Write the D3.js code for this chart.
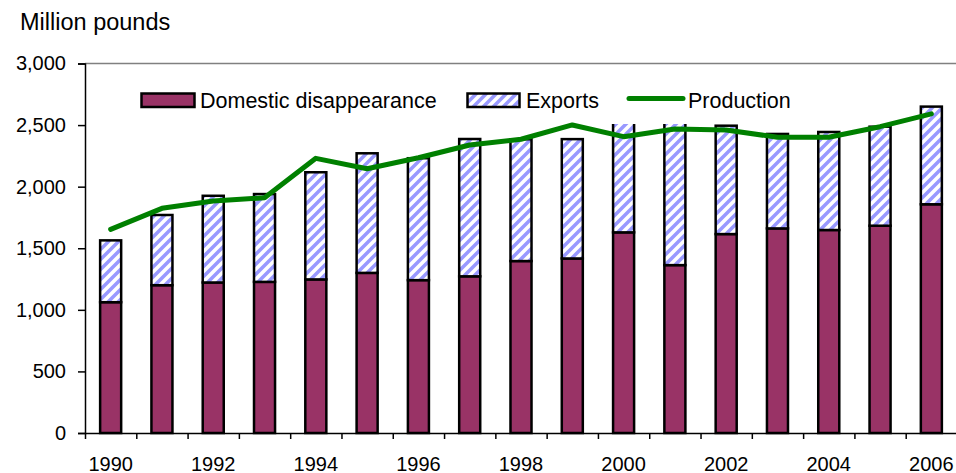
<!DOCTYPE html>
<html>
<head>
<meta charset="utf-8">
<script src="https://cdnjs.cloudflare.com/ajax/libs/d3/7.8.5/d3.min.js"></script>
<style>
  body { margin: 0; background: #ffffff; }
  svg text { font-family: "Liberation Sans", Arial, sans-serif; fill: #000000; }
</style>
</head>
<body>
<div id="chart"></div>
<script>
var years = [1990, 1991, 1992, 1993, 1994, 1995, 1996, 1997, 1998, 1999, 2000, 2001, 2002, 2003, 2004, 2005, 2006];
var yearLabels = [1990, 1992, 1994, 1996, 1998, 2000, 2002, 2004, 2006];
var domestic = [1062, 1200, 1222, 1227, 1247, 1300, 1241, 1272, 1396, 1417, 1629, 1363, 1615, 1661, 1648, 1683, 1857];
var exports = [502, 570, 704, 713, 870, 971, 990, 1115, 989, 969, 931, 1217, 880, 767, 796, 804, 793];
var production = [1653, 1824, 1883, 1910, 2230, 2145, 2235, 2338, 2385, 2501, 2406, 2468, 2460, 2401, 2401, 2487, 2591];
var yTicks = [0, 500, 1000, 1500, 2000, 2500, 3000];
var seriesNames = ["Domestic disappearance", "Exports", "Production"];

var width = 956, height = 473;
// note: "top" is taken by window.top, so use plot* names
var plotLeft = 85, plotTop = 63.5, plotBottom = 433, plotRight = 957;

var svg = d3.select("#chart").append("svg")
  .attr("width", width)
  .attr("height", height);

var defs = svg.append("defs");
var hatch = defs.append("pattern")
  .attr("id", "hatch")
  .attr("patternUnits", "userSpaceOnUse")
  .attr("width", 10)
  .attr("height", 10);
hatch.append("rect").attr("width", 10).attr("height", 10).attr("fill", "#ffffff");
hatch.append("path")
  .attr("d", "M-3,3 L3,-3 M0,10 L10,0 M7,13 L13,7")
  .attr("stroke", "#9999ff")
  .attr("stroke-width", 3.5);

var x = d3.scaleBand().domain(years).range([plotLeft, plotRight]).padding(0);
var xEdge = d3.scaleLinear().domain([1989.5, 2006.5]).range([plotLeft, plotRight]);
var y = d3.scaleLinear().domain([0, 3000]).range([plotBottom, plotTop]);

var barW = x.bandwidth() * 0.41;

// plot area top border
svg.append("line")
  .attr("x1", plotLeft).attr("x2", plotRight)
  .attr("y1", plotTop).attr("y2", plotTop)
  .attr("stroke", "#808080")
  .attr("stroke-width", 1.5);

// stacked bars
var bars = svg.append("g");
years.forEach(function (yr, i) {
  var cx = x(yr) + x.bandwidth() / 2;
  bars.append("rect")
    .attr("x", cx - barW / 2)
    .attr("y", y(domestic[i]))
    .attr("width", barW)
    .attr("height", y(0) - y(domestic[i]))
    .attr("fill", "#993366")
    .attr("stroke", "#000000")
    .attr("stroke-width", 2.5);
  bars.append("rect")
    .attr("x", cx - barW / 2)
    .attr("y", y(domestic[i] + exports[i]))
    .attr("width", barW)
    .attr("height", y(domestic[i]) - y(domestic[i] + exports[i]))
    .attr("fill", "url(#hatch)")
    .attr("stroke", "#000000")
    .attr("stroke-width", 2.5);
});

// axes
var yAxis = d3.axisLeft(y)
  .tickValues(yTicks)
  .tickSize(7)
  .tickPadding(12)
  .tickFormat(d3.format(","));
var gy = svg.append("g")
  .attr("transform", "translate(" + plotLeft + ",0)")
  .call(yAxis);
gy.select(".domain").attr("stroke", "#000000").attr("stroke-width", 1.5);
gy.selectAll(".tick line").attr("stroke", "#000000").attr("stroke-width", 1.5);
gy.selectAll(".tick text")
  .style("font-family", '"Liberation Sans", Arial, sans-serif')
  .style("font-size", "20px")
  .attr("fill", "#000000");

var edges = d3.range(1989.5, 2007, 1);
var xAxis = d3.axisBottom(xEdge)
  .tickValues(edges)
  .tickSize(6)
  .tickSizeOuter(0)
  .tickFormat("");
var gx = svg.append("g")
  .attr("transform", "translate(0," + plotBottom + ")")
  .call(xAxis);
gx.select(".domain").attr("stroke", "#000000").attr("stroke-width", 1.5);
gx.selectAll(".tick line").attr("stroke", "#000000").attr("stroke-width", 1.5);

svg.append("g").selectAll("text")
  .data(yearLabels)
  .enter().append("text")
  .attr("x", function (d) { return x(d) + x.bandwidth() / 2; })
  .attr("y", 470.5)
  .attr("text-anchor", "middle")
  .style("font-size", "20px")
  .text(function (d) { return d; });

// legend, white box sits on top of the plot
var legend = svg.append("g");
legend.append("rect")
  .attr("x", 130).attr("y", 78)
  .attr("width", 672).attr("height", 46)
  .attr("fill", "#ffffff");
legend.append("rect")
  .attr("x", 141.5).attr("y", 93.5)
  .attr("width", 53).attr("height", 13.5)
  .attr("fill", "#993366")
  .attr("stroke", "#000000")
  .attr("stroke-width", 2.5);
legend.append("text")
  .attr("x", 200).attr("y", 107.5)
  .style("font-size", "21.5px")
  .text(seriesNames[0]);
legend.append("rect")
  .attr("x", 467.5).attr("y", 93.5)
  .attr("width", 52).attr("height", 13.5)
  .attr("fill", "url(#hatch)")
  .attr("stroke", "#000000")
  .attr("stroke-width", 2.5);
legend.append("text")
  .attr("x", 526).attr("y", 107.5)
  .style("font-size", "21.5px")
  .text(seriesNames[1]);
legend.append("line")
  .attr("x1", 629).attr("x2", 683)
  .attr("y1", 98.5).attr("y2", 98.5)
  .attr("stroke", "#008000")
  .attr("stroke-width", 5)
  .attr("stroke-linecap", "round");
legend.append("text")
  .attr("x", 688).attr("y", 107.5)
  .style("font-size", "21.5px")
  .text(seriesNames[2]);

// production line
var line = d3.line()
  .x(function (d, i) { return x(years[i]) + x.bandwidth() / 2; })
  .y(function (d) { return y(d); });
svg.append("path")
  .datum(production)
  .attr("d", line)
  .attr("fill", "none")
  .attr("stroke", "#008000")
  .attr("stroke-width", 5)
  .attr("stroke-linejoin", "round")
  .attr("stroke-linecap", "round");

// unit title
svg.append("text")
  .attr("x", 20).attr("y", 29.5)
  .style("font-size", "23.5px")
  .text("Million pounds");
</script>
</body>
</html>
